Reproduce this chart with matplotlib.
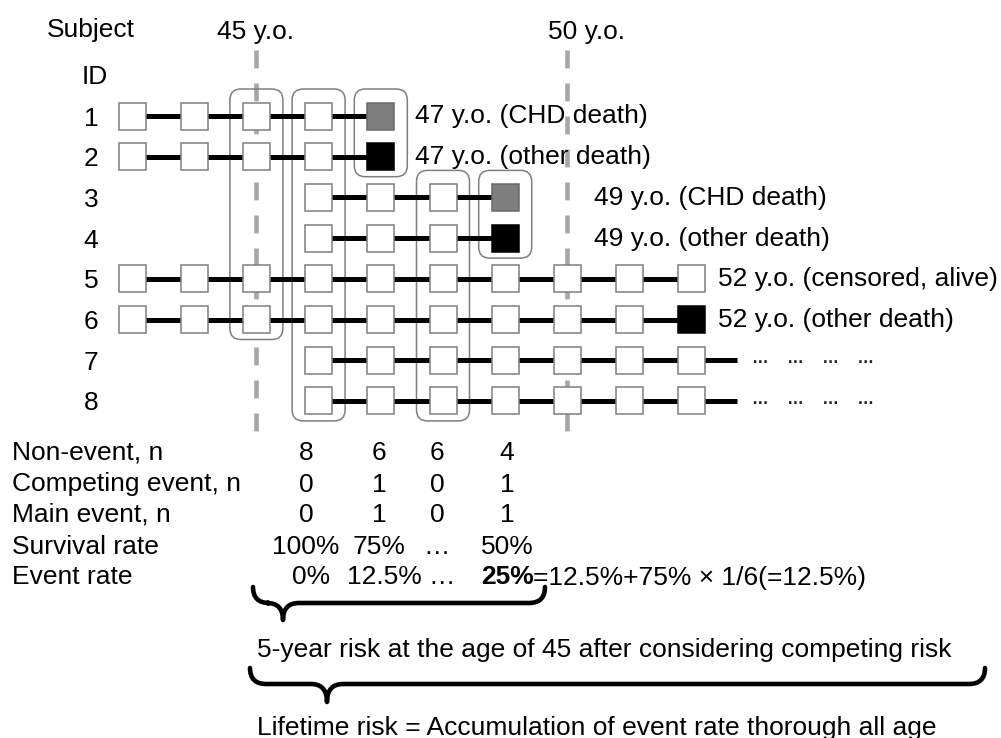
import matplotlib
matplotlib.use("Agg")
import matplotlib.pyplot as plt
from matplotlib.patches import Rectangle, FancyBboxPatch, PathPatch
from matplotlib.path import Path

plt.rcParams['font.family'] = ['Liberation Sans', 'DejaVu Sans']

# ---- data ----
subject_ids = [1, 2, 3, 4, 5, 6, 7, 8]
start_age = [43, 43, 46, 46, 43, 43, 46, 46]
end_age = [47, 47, 49, 49, 52, 52, 52, 52]
outcome = ['chd', 'other', 'chd', 'other', 'alive', 'other', 'ongoing', 'ongoing']
end_labels = ['47 y.o. (CHD death)', '47 y.o. (other death)',
              '49 y.o. (CHD death)', '49 y.o. (other death)',
              '52 y.o. (censored, alive)', '52 y.o. (other death)',
              '…    …    …    …', '…    …    …    …']

marked_ages = [45, 50]
marked_labels = ['45 y.o.', '50 y.o.']

# risk set at each age: first and last subject row inside the box
riskset_age = [45, 46, 47, 48, 49]
riskset_first = [1, 1, 1, 3, 3]
riskset_last = [6, 8, 2, 8, 4]

table_labels = ['Non-event, n', 'Competing event, n', 'Main event, n',
                'Survival rate', 'Event rate']
non_event = [8, 6, 6, 4]
competing = [0, 1, 0, 1]
main_event = [0, 1, 0, 1]
survival = ['100%', '75%', '…', '50%']
event_rate = ['0%', '12.5%', '…', '25%']
formula = '=12.5%+75% × 1/6(=12.5%)'

brace_texts = ['5-year risk at the age of 45 after considering competing risk',
               'Lifetime risk = Accumulation of event rate thorough all age']

# ---- layout (pixels) ----
W, H = 1001, 738
AGE0, X_AGE0, PX_YEAR = 43, 132, 62.2
Y_ROW1, PX_ROW = 116, 40.7
SQ = 27
FS = 19
label_x = [415, 415, 594, 594, 718, 718, 752, 752]
table_cols = [306, 379, 437, 507]
table_rows = [450, 482, 512, 545, 575]
# x0, x1, tip x, top y, flat y, tip y
braces = [(253, 545, 283, 587, 603, 620),
          (250, 985, 327, 668, 684, 702)]
brace_text_y = [648, 725]


def age_x(a):
    return X_AGE0 + (a - AGE0) * PX_YEAR


def row_y(r):
    return Y_ROW1 + (r - 1) * PX_ROW


fig = plt.figure(figsize=(W / 100, H / 100), dpi=100)
ax = fig.add_axes([0, 0, 1, 1])
ax.set_xlim(0, W)
ax.set_ylim(H, 0)
ax.axis('off')

# headers
ax.text(47, 27, 'Subject', fontsize=FS, ha='left', va='center_baseline')
ax.text(82, 74, 'ID', fontsize=FS, ha='left', va='center_baseline')
for a, lab, lx in zip(marked_ages, marked_labels, [217, 548]):
    ax.text(lx, 30, lab, fontsize=FS, ha='left', va='center_baseline')
    ax.plot([age_x(a), age_x(a)], [50, 443], color='#a6a6a6', lw=3.3,
            dashes=(3.9, 3.3), solid_capstyle='butt', zorder=1)

# risk set boxes
for a, f, l in zip(riskset_age, riskset_first, riskset_last):
    x0 = age_x(a) - 26.5
    y0 = row_y(f) - 27
    box = FancyBboxPatch((x0, y0), 53, row_y(l) + 20 - y0,
                         boxstyle='round,pad=0,rounding_size=11',
                         fc='none', ec='#7f7f7f', lw=1.1, zorder=1)
    ax.add_patch(box)

# subjects
for i, sid in enumerate(subject_ids):
    y = row_y(sid)
    ax.text(91, y, str(sid), fontsize=FS, ha='center', va='center_baseline')
    x_end = age_x(end_age[i])
    if outcome[i] == 'ongoing':
        x_end = x_end + 45
    ax.plot([age_x(start_age[i]), x_end], [y, y], color='black', lw=3.6,
            solid_capstyle='butt', zorder=2)
    for a in range(start_age[i], end_age[i] + 1):
        fc, ec = 'white', '#7f7f7f'
        if a == end_age[i] and outcome[i] == 'chd':
            fc, ec = '#7f7f7f', '#6a6a6a'
        elif a == end_age[i] and outcome[i] == 'other':
            fc, ec = 'black', 'black'
        ax.add_patch(Rectangle((age_x(a) - SQ / 2, y - SQ / 2), SQ, SQ,
                               fc=fc, ec=ec, lw=1.1, zorder=3))
    if outcome[i] == 'ongoing':
        ax.text(label_x[i], y + 3, end_labels[i], fontsize=12, ha='left',
                va='baseline', fontweight='bold', color='#222222')
    else:
        ax.text(label_x[i], y - 2, end_labels[i], fontsize=FS, ha='left',
                va='center_baseline', zorder=4)

# table
for lab, ty in zip(table_labels, table_rows):
    ax.text(12, ty, lab, fontsize=FS, ha='left', va='center_baseline')
for j, cx in enumerate(table_cols):
    ax.text(cx, table_rows[0], str(non_event[j]), fontsize=FS, ha='center', va='center_baseline')
    ax.text(cx, table_rows[1], str(competing[j]), fontsize=FS, ha='center', va='center_baseline')
    ax.text(cx, table_rows[2], str(main_event[j]), fontsize=FS, ha='center', va='center_baseline')
    ax.text(cx, table_rows[3], survival[j], fontsize=FS, ha='center', va='center_baseline')
    last = j == len(table_cols) - 1
    t = ax.text(cx + (0 if last else 5), table_rows[4], event_rate[j], fontsize=FS,
                ha='center', va='center_baseline',
                fontweight='bold' if last else 'normal')
    if last:
        ax.annotate(formula, xy=(1, 0), xycoords=t, fontsize=FS,
                    ha='left', va='bottom')

# braces
for (x0, x1, xt, yt, yf, ytip), txt, ty in zip(braces, brace_texts, brace_text_y):
    r = 16
    verts = [(x0, yt), (x0, yf), (x0 + r, yf),
             (xt - r, yf), (xt, yf), (xt, ytip),
             (xt, yf), (xt + r, yf),
             (x1 - r, yf), (x1, yf), (x1, yt)]
    codes = [Path.MOVETO, Path.CURVE3, Path.CURVE3,
             Path.LINETO, Path.CURVE3, Path.CURVE3,
             Path.CURVE3, Path.CURVE3,
             Path.LINETO, Path.CURVE3, Path.CURVE3]
    ax.add_patch(PathPatch(Path(verts, codes), fc='none', ec='black', lw=3.3,
                           capstyle='round', joinstyle='round'))
    ax.text(257, ty, txt, fontsize=FS, ha='left', va='center_baseline')

fig.savefig('out.png', dpi=100)
